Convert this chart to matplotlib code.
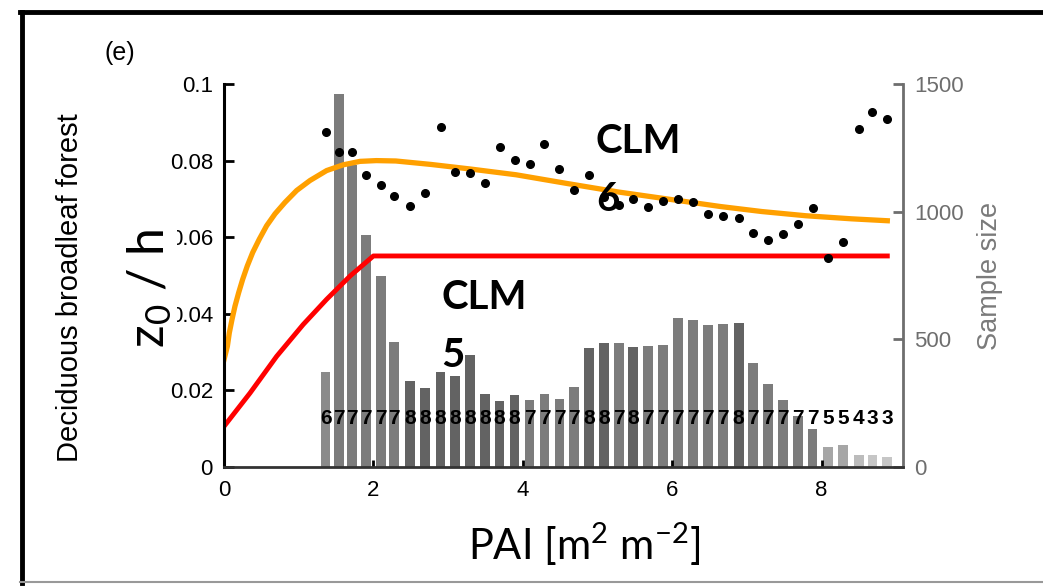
import matplotlib
matplotlib.use('Agg')
import matplotlib.pyplot as plt
from matplotlib.lines import Line2D

# DATOS
pai_bins = [1.36, 1.54, 1.71, 1.90, 2.10, 2.28, 2.49, 2.69, 2.90, 3.09, 3.29, 3.49, 3.69,
            3.89, 4.09, 4.29, 4.49, 4.69, 4.89, 5.09, 5.29, 5.48, 5.68, 5.88, 6.08, 6.28,
            6.48, 6.68, 6.89, 7.08, 7.28, 7.48, 7.68, 7.88, 8.09, 8.29, 8.50, 8.68, 8.88]
sample_size = [374, 1461, 1181, 908, 748, 489, 335, 311, 371, 358, 440, 285, 260,
               283, 262, 286, 265, 315, 466, 484, 484, 471, 474, 478, 584, 575,
               558, 559, 564, 407, 324, 264, 198, 148, 80, 88, 46, 46, 39]
n_sites = [6, 7, 7, 7, 7, 7, 8, 8, 8, 8, 8, 8, 8,
           8, 7, 7, 7, 7, 8, 8, 7, 8, 7, 7, 7, 7,
           7, 7, 8, 7, 7, 7, 7, 7, 5, 5, 4, 3, 3]
z0h_obs = [0.0874, 0.0823, 0.0823, 0.0762, 0.0736, 0.0708, 0.0681, 0.0715, 0.0889, 0.0771,
           0.0768, 0.0741, 0.0836, 0.0801, 0.0790, 0.0843, 0.0779, 0.0722, 0.0763, 0.0705,
           0.0684, 0.0700, 0.0678, 0.0695, 0.0701, 0.0691, 0.0661, 0.0656, 0.0651, 0.0611,
           0.0592, 0.0608, 0.0634, 0.0676, 0.0546, 0.0587, 0.0882, 0.0927, 0.0908]

clm6_x = [0, 0.045, 0.071, 0.107, 0.147, 0.196, 0.250, 0.312, 0.384, 0.473, 0.571, 0.683,
          0.817, 0.973, 1.151, 1.374, 1.597, 1.82, 2.04, 2.30, 2.77, 3.30, 3.91, 4.60,
          5.28, 6.00, 6.65, 7.20, 7.79, 8.40, 8.88]
clm6_y = [0.0280, 0.0315, 0.0350, 0.0385, 0.0420, 0.0455, 0.0490, 0.0525, 0.0560, 0.0595,
          0.0630, 0.0661, 0.0691, 0.0722, 0.0748, 0.0774, 0.0789, 0.0798, 0.0800, 0.0799,
          0.0790, 0.0778, 0.0763, 0.0740, 0.0718, 0.0698, 0.0680, 0.0667, 0.0656, 0.0648,
          0.0643]
clm5_x = [0, 0.348, 0.705, 1.06, 1.375, 1.69, 2.0, 8.88]
clm5_y = [0.0106, 0.0193, 0.0289, 0.0372, 0.0438, 0.0499, 0.0551, 0.0551]

bar_colours = {3: '#c6c6c6', 4: '#bcbcbc', 5: '#a6a6a6', 6: '#8a8a8a', 7: '#7c7c7c', 8: '#636363'}

plt.rcParams['font.family'] = ['Liberation Sans', 'DejaVu Sans']
plt.rcParams['mathtext.fontset'] = 'custom'
plt.rcParams['mathtext.rm'] = 'Lato'
plt.rcParams['mathtext.it'] = 'Lato:italic'

W, H = 1043, 586
fig = plt.figure(figsize=(W / 100, H / 100), dpi=100)
ax = fig.add_axes([224 / W, 1 - 467 / H, (903 - 224) / W, (467 - 84) / H])
ax2 = ax.twinx()
ax.set_zorder(ax2.get_zorder() + 1)
ax.patch.set_visible(False)

# barras de tamano de muestra
ax2.bar(pai_bins, sample_size, width=0.13, color=[bar_colours[n] for n in n_sites], zorder=1)
for x, n in zip(pai_bins, n_sites):
    ax2.text(x, 189, str(n), ha='center', va='center', fontsize=15, fontweight='bold')
ax2.set_ylim(0, 1500)
ax2.set_yticks([0, 500, 1000, 1500])
ax2.tick_params(axis='y', direction='in', length=7, width=2, colors='#6e6e6e',
                labelsize=16, pad=8)
for s in ['left', 'top', 'bottom']:
    ax2.spines[s].set_visible(False)
ax2.spines['right'].set_color('#6e6e6e')
ax2.spines['right'].set_linewidth(2)

# curvas y observaciones
ax.plot(clm6_x, clm6_y, color='#ffa000', lw=3.8, zorder=2)
ax.plot(clm5_x, clm5_y, color='#ff0000', lw=3.5, zorder=2)
ax.plot(pai_bins, z0h_obs, 'o', color='k', ms=5.5, zorder=3)

ax.text(4.98, 0.0899, 'CLM\n6', fontsize=29, fontweight='bold', family='Lato',
        va='top', ha='left', linespacing=1.7, zorder=5)
ax.text(2.91, 0.0490, 'CLM\n5', fontsize=29, fontweight='bold', family='Lato',
        va='top', ha='left', linespacing=1.7, zorder=5)

ax.set_xlim(0, 9.09)
ax.set_ylim(0, 0.1)
ax.set_xticks([0, 2, 4, 6, 8])
ax.set_yticks([0, 0.02, 0.04, 0.06, 0.08, 0.1], ['0', '0.02', '0.04', '0.06', '0.08', '0.1'])
ax.tick_params(axis='y', direction='in', length=7, width=2, labelsize=16, pad=8)
ax.tick_params(axis='x', direction='in', length=5, width=2, labelsize=16, pad=9)
ax.spines['top'].set_visible(False)
ax.spines['right'].set_visible(False)
ax.spines['left'].set_linewidth(2.2)
ax.spines['bottom'].set_linewidth(2)
ax.spines['bottom'].set_color('#333333')

# textos de la figura (la etiqueta tapa en parte 0.06 y 0.04, como en el original)
fig.text(150 / W, 1 - 288 / H, 'z$_0$ / h', rotation=90, fontsize=36, family='Lato',
         ha='center', va='center', zorder=6,
         bbox=dict(facecolor='white', edgecolor='none', pad=2))
fig.text(70 / W, 1 - 288 / H, 'Deciduous broadleaf forest', rotation=90, fontsize=21,
         ha='center', va='center')
fig.text(990 / W, 1 - 276 / H, 'Sample size', rotation=90, fontsize=19.5,
         color='#7a7a7a', ha='center', va='center')
fig.text(120 / W, 1 - 53 / H, '(e)', fontsize=18, ha='center', va='center')
fig.text(584 / W, 1 - 544 / H, 'PAI [m$^2$ m$^{-2}$]', fontsize=30, family='Lato',
         ha='center', va='center')

# marco
fig.add_artist(Line2D([21.5 / W, 21.5 / W], [1 - 12 / H, 1 - 583 / H], color='k', lw=3.5,
                      transform=fig.transFigure))
fig.add_artist(Line2D([20 / W, 1.0], [1 - 12 / H, 1 - 12 / H], color='k', lw=3.5,
                      transform=fig.transFigure))
fig.add_artist(Line2D([20 / W, 1.0], [1 - 582 / H, 1 - 582 / H], color='#999999', lw=1.5,
                      transform=fig.transFigure))

fig.savefig('out.png', dpi=100)
